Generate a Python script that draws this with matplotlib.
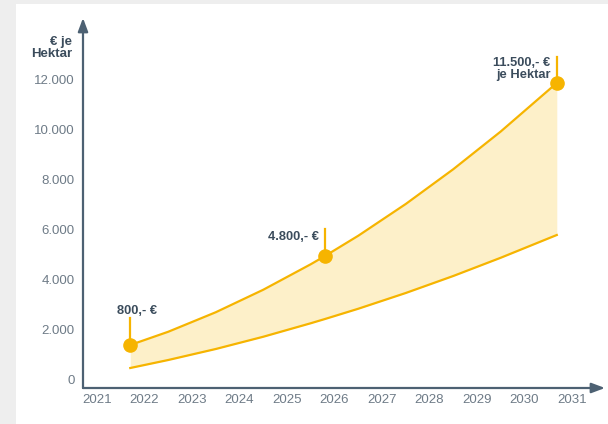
import matplotlib.pyplot as plt
from matplotlib.patches import Rectangle

# Werte
jahre = [2021.7, 2022.5, 2023.5, 2024.5, 2025.5, 2025.8, 2026.5, 2027.5, 2028.5, 2029.5, 2030.68]
oben = [1400, 1930, 2710, 3610, 4630, 4960, 5770, 7040, 8430, 9940, 11880]
unten = [480, 800, 1240, 1730, 2270, 2440, 2850, 3480, 4160, 4890, 5800]

punkte_x = [2021.7, 2025.8, 2030.68]
punkte_y = [1400, 4960, 11880]
punkte_text = ["800,- €", "4.800,- €", "11.500,- €\nje Hektar"]

x_ticks = list(range(2021, 2032))
y_ticks = [0, 2000, 4000, 6000, 8000, 10000, 12000]
y_labels = ["0", "2.000", "4.000", "6.000", "8.000", "10.000", "12.000"]

gelb = "#f6b400"
hell = "#fdf0c9"
achse = "#4d6173"
grau = "#6e7b87"
dunkel = "#3b4c5c"

plt.rcParams['font.family'] = ['Liberation Sans', 'DejaVu Sans']

fig = plt.figure(figsize=(6.08, 4.24), dpi=100)
fig.patch.set_facecolor("#eeeeee")
fig.add_artist(Rectangle((16 / 608, 0), 1, (424 - 4) / 424, transform=fig.transFigure,
                         facecolor="white", edgecolor="none", zorder=0))

ax = fig.add_axes([83 / 608, 36 / 424, 522 / 608, 370 / 424])
ax.set_facecolor("none")
ax.set_xlim(2020.705, 2031.695)
ax.set_ylim(-320, 14480)

ax.fill_between(jahre, unten, oben, color=hell, lw=0, zorder=1)
ax.plot(jahre, oben, color=gelb, lw=1.6, zorder=2)
ax.plot(jahre, unten, color=gelb, lw=1.6, zorder=2)

# Markierungen mit senkrechten Linien
linien_oben = [2480, 6030, 12930]
for px, py, top in zip(punkte_x, punkte_y, linien_oben):
    ax.plot([px, px], [py, top], color=gelb, lw=1.6, zorder=3)
ax.plot(punkte_x, punkte_y, "o", color=gelb, ms=9.5, zorder=4)

ax.text(2021.85, 2772, punkte_text[0], ha="center", va="center", fontsize=9.3,
        fontweight="bold", color=dunkel)
ax.text(2025.67, 5732, punkte_text[1], ha="right", va="center", fontsize=9.3,
        fontweight="bold", color=dunkel)
ax.text(2030.55, 12450, punkte_text[2], ha="right", va="center", fontsize=9.3,
        fontweight="bold", color=dunkel, linespacing=1.05)

# Achsen mit Pfeilen
for s in ax.spines.values():
    s.set_visible(False)
pfeil = dict(arrowstyle="-|>,head_length=0.8,head_width=0.3", lw=1.6, color=achse,
             shrinkA=0, shrinkB=0, mutation_scale=10)
ax.annotate("", xy=(0, 1), xytext=(0, 0), xycoords="axes fraction", arrowprops=pfeil)
ax.annotate("", xy=(1, 0), xytext=(0, 0), xycoords="axes fraction", arrowprops=pfeil)

ax.set_xticks(x_ticks)
ax.set_xticklabels([str(j) for j in x_ticks])
ax.set_yticks(y_ticks)
ax.set_yticklabels(y_labels)
ax.tick_params(axis="both", length=0, labelsize=9.5, labelcolor=grau)
ax.tick_params(axis="x", pad=4)
ax.tick_params(axis="y", pad=6)

fig.text(72 / 608, 1 - 48 / 424, "€ je\nHektar", ha="right", va="center", fontsize=9.5,
         fontweight="bold", color=dunkel, linespacing=1.1)

fig.savefig("out.png", dpi=100)
